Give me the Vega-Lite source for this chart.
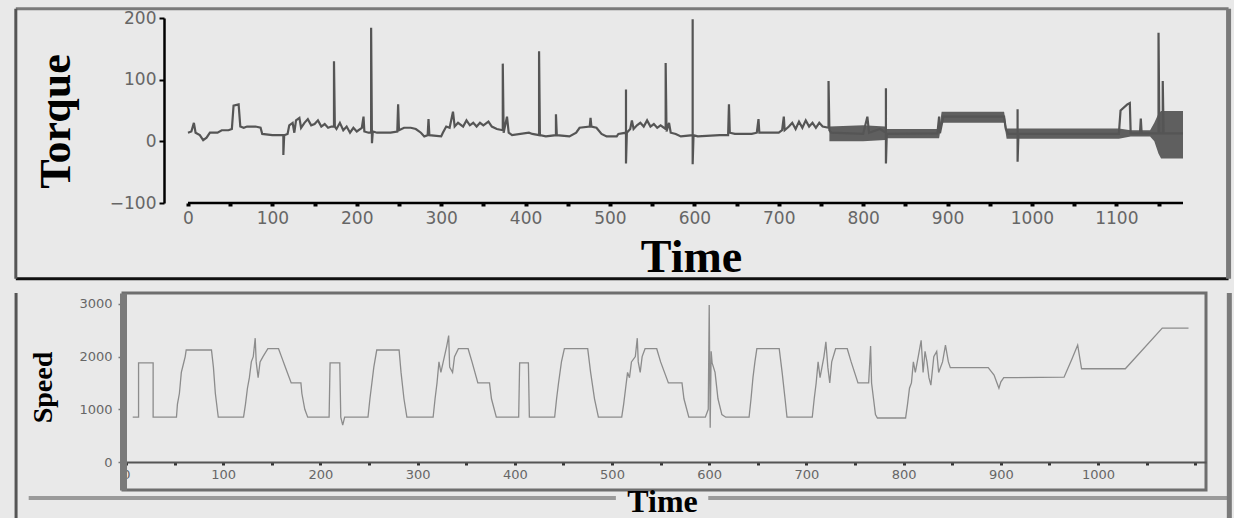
{
  "$schema": "https://vega.github.io/schema/vega-lite/v6.json",
  "background": "#e9e9e9",
  "padding": {"left": 13, "top": 6, "right": 0, "bottom": 0},
  "spacing": 7,
  "config": {
    "view": {"stroke": null},
    "axis": {"grid": false, "labelFont": "DejaVu Sans", "titleFont": "Liberation Serif", "titleFontWeight": "bold", "titleColor": "#000"}
  },
  "datasets": {
    "torque": [
      {"t":0,"v":14},{"t":4,"v":16},{"t":7,"v":30},{"t":9,"v":14},{"t":14,"v":10},{"t":18,"v":2},{"t":22,"v":6},{"t":26,"v":14},{"t":35,"v":14},{"t":40,"v":18},{"t":48,"v":18},{"t":52,"v":20},{"t":54,"v":58},{"t":60,"v":60},{"t":62,"v":24},{"t":66,"v":22},{"t":70,"v":24},{"t":80,"v":24},{"t":86,"v":22},{"t":88,"v":12},{"t":100,"v":10},{"t":110,"v":10},{"t":113,"v":10},{"t":113,"v":-22},{"t":114,"v":10},{"t":118,"v":12},{"t":120,"v":26},{"t":124,"v":30},{"t":126,"v":14},{"t":128,"v":34},{"t":132,"v":38},{"t":134,"v":22},{"t":138,"v":30},{"t":142,"v":36},{"t":146,"v":26},{"t":150,"v":28},{"t":154,"v":34},{"t":158,"v":24},{"t":162,"v":28},{"t":166,"v":22},{"t":170,"v":24},{"t":173,"v":24},{"t":173,"v":130},{"t":174,"v":24},{"t":176,"v":20},{"t":180,"v":30},{"t":184,"v":18},{"t":188,"v":24},{"t":192,"v":14},{"t":196,"v":22},{"t":200,"v":16},{"t":206,"v":22},{"t":208,"v":40},{"t":209,"v":16},{"t":214,"v":14},{"t":217,"v":14},{"t":217,"v":184},{"t":218,"v":-3},{"t":219,"v":16},{"t":224,"v":14},{"t":240,"v":14},{"t":248,"v":16},{"t":249,"v":60},{"t":250,"v":18},{"t":256,"v":22},{"t":264,"v":22},{"t":270,"v":20},{"t":276,"v":14},{"t":280,"v":8},{"t":284,"v":10},{"t":285,"v":36},{"t":286,"v":10},{"t":300,"v":8},{"t":302,"v":14},{"t":306,"v":24},{"t":310,"v":22},{"t":314,"v":48},{"t":316,"v":24},{"t":320,"v":30},{"t":326,"v":24},{"t":330,"v":34},{"t":334,"v":26},{"t":338,"v":30},{"t":342,"v":24},{"t":346,"v":30},{"t":350,"v":26},{"t":356,"v":32},{"t":360,"v":24},{"t":366,"v":20},{"t":373,"v":18},{"t":373,"v":126},{"t":374,"v":14},{"t":378,"v":40},{"t":380,"v":14},{"t":384,"v":10},{"t":404,"v":14},{"t":408,"v":12},{"t":416,"v":10},{"t":416,"v":146},{"t":417,"v":10},{"t":424,"v":8},{"t":436,"v":10},{"t":436,"v":44},{"t":437,"v":10},{"t":452,"v":8},{"t":460,"v":14},{"t":464,"v":22},{"t":476,"v":24},{"t":477,"v":38},{"t":478,"v":24},{"t":484,"v":22},{"t":490,"v":12},{"t":496,"v":8},{"t":508,"v":8},{"t":510,"v":12},{"t":519,"v":14},{"t":519,"v":84},{"t":519,"v":-36},{"t":520,"v":14},{"t":524,"v":20},{"t":526,"v":34},{"t":528,"v":20},{"t":532,"v":26},{"t":536,"v":30},{"t":540,"v":24},{"t":544,"v":34},{"t":548,"v":24},{"t":552,"v":28},{"t":556,"v":22},{"t":560,"v":26},{"t":566,"v":20},{"t":566,"v":127},{"t":567,"v":16},{"t":570,"v":30},{"t":572,"v":14},{"t":578,"v":12},{"t":584,"v":8},{"t":598,"v":10},{"t":598,"v":198},{"t":598,"v":-37},{"t":599,"v":10},{"t":604,"v":8},{"t":630,"v":10},{"t":640,"v":10},{"t":641,"v":60},{"t":642,"v":14},{"t":648,"v":12},{"t":668,"v":12},{"t":674,"v":14},{"t":676,"v":36},{"t":677,"v":14},{"t":700,"v":14},{"t":704,"v":18},{"t":706,"v":40},{"t":707,"v":18},{"t":712,"v":24},{"t":716,"v":30},{"t":720,"v":20},{"t":724,"v":32},{"t":728,"v":22},{"t":732,"v":34},{"t":736,"v":24},{"t":740,"v":30},{"t":744,"v":22},{"t":748,"v":30},{"t":752,"v":24},{"t":759,"v":22},{"t":759,"v":98},{"t":760,"v":18},{"t":762,"v":14},{"t":800,"v":12},{"t":805,"v":40},{"t":807,"v":14},{"t":820,"v":20},{"t":827,"v":14},{"t":827,"v":86},{"t":827,"v":-36},{"t":828,"v":12},{"t":888,"v":13},{"t":890,"v":40},{"t":891,"v":13},{"t":895,"v":40},{"t":967,"v":40},{"t":969,"v":20},{"t":972,"v":12},{"t":983,"v":12},{"t":983,"v":52},{"t":983,"v":-33},{"t":984,"v":12},{"t":1103,"v":12},{"t":1105,"v":50},{"t":1113,"v":60},{"t":1116,"v":62},{"t":1117,"v":13},{"t":1128,"v":13},{"t":1129,"v":37},{"t":1130,"v":13},{"t":1150,"v":13},{"t":1150,"v":176},{"t":1151,"v":13},{"t":1155,"v":13},{"t":1155,"v":98},{"t":1156,"v":13},{"t":1179,"v":13}
    ],
    "bands": [
      {"t":760,"lo":0,"hi":24},{"t":800,"lo":0,"hi":26},{"t":826,"lo":2,"hi":24},
      {"t":828,"lo":5,"hi":20},{"t":890,"lo":5,"hi":20},
      {"t":893,"lo":30,"hi":48},{"t":967,"lo":30,"hi":48},
      {"t":970,"lo":4,"hi":21},{"t":1103,"lo":4,"hi":21},
      {"t":1117,"lo":8,"hi":18},{"t":1140,"lo":8,"hi":18},{"t":1145,"lo":0,"hi":30},{"t":1150,"lo":-20,"hi":45},{"t":1153,"lo":-28,"hi":49},{"t":1179,"lo":-28,"hi":49}
    ],
    "topH": [
      {"a":0,"b":1179,"v":-100,"c":"#000000","w":2.5},
      {"a":-204,"b":1233,"v":215,"c":"#7a7a7a","w":3},
      {"a":-204,"b":1233,"v":-223,"c":"#111111","w":3}
    ],
    "topV": [
      {"t":-204,"v1":215,"v2":-223,"c":"#555555","w":3},
      {"t":1233,"v1":215,"v2":-223,"c":"#7a7a7a","w":5}
    ],
    "botH": [
      {"a":-100,"b":504,"s":-683},
      {"a":599,"b":1135,"s":-683}
    ],
    "botV": [
      {"t":-113,"s1":3207,"s2":-1063,"c":"#555555","w":3},
      {"t":1135,"s1":3207,"s2":-1063,"c":"#7a7a7a","w":5}
    ],
    "speed": [
      {"t":7,"s":850},{"t":13,"s":850},{"t":13,"s":1880},{"t":28,"s":1880},{"t":28,"s":850},{"t":52,"s":850},{"t":53,"s":1100},{"t":55,"s":1300},{"t":56,"s":1500},{"t":57,"s":1700},{"t":59,"s":1850},{"t":61,"s":2000},{"t":62,"s":2125},{"t":88,"s":2125},{"t":90,"s":1800},{"t":92,"s":1300},{"t":95,"s":850},{"t":121,"s":850},{"t":123,"s":1100},{"t":125,"s":1400},{"t":127,"s":1600},{"t":129,"s":1900},{"t":131,"s":2000},{"t":133,"s":2350},{"t":134,"s":1900},{"t":136,"s":1600},{"t":138,"s":1900},{"t":141,"s":2000},{"t":146,"s":2150},{"t":157,"s":2150},{"t":160,"s":2000},{"t":164,"s":1800},{"t":170,"s":1500},{"t":180,"s":1500},{"t":181,"s":1300},{"t":184,"s":1000},{"t":187,"s":850},{"t":209,"s":850},{"t":210,"s":1880},{"t":220,"s":1880},{"t":221,"s":850},{"t":223,"s":700},{"t":225,"s":850},{"t":249,"s":850},{"t":251,"s":1200},{"t":253,"s":1500},{"t":255,"s":1800},{"t":258,"s":2125},{"t":281,"s":2125},{"t":283,"s":1700},{"t":286,"s":1200},{"t":289,"s":850},{"t":316,"s":850},{"t":318,"s":1200},{"t":320,"s":1500},{"t":322,"s":1900},{"t":324,"s":1700},{"t":330,"s":2200},{"t":332,"s":2400},{"t":333,"s":1800},{"t":336,"s":1700},{"t":338,"s":2000},{"t":342,"s":2150},{"t":352,"s":2150},{"t":356,"s":1900},{"t":362,"s":1500},{"t":374,"s":1500},{"t":376,"s":1200},{"t":381,"s":850},{"t":404,"s":850},{"t":405,"s":1880},{"t":414,"s":1880},{"t":415,"s":850},{"t":441,"s":850},{"t":443,"s":1200},{"t":445,"s":1500},{"t":448,"s":1900},{"t":451,"s":2150},{"t":475,"s":2150},{"t":478,"s":1700},{"t":482,"s":1200},{"t":486,"s":850},{"t":510,"s":850},{"t":512,"s":1100},{"t":514,"s":1400},{"t":516,"s":1700},{"t":518,"s":1600},{"t":520,"s":1900},{"t":524,"s":2000},{"t":526,"s":2350},{"t":527,"s":1900},{"t":529,"s":1700},{"t":531,"s":2000},{"t":534,"s":2150},{"t":546,"s":2150},{"t":550,"s":1900},{"t":558,"s":1500},{"t":572,"s":1500},{"t":574,"s":1200},{"t":579,"s":850},{"t":596,"s":850},{"t":599,"s":1000},{"t":600,"s":2980},{"t":601,"s":650},{"t":602,"s":2100},{"t":603,"s":1880},{"t":606,"s":1700},{"t":609,"s":1200},{"t":613,"s":900},{"t":617,"s":850},{"t":641,"s":850},{"t":643,"s":1200},{"t":645,"s":1600},{"t":647,"s":1900},{"t":649,"s":2150},{"t":672,"s":2150},{"t":675,"s":1700},{"t":678,"s":1200},{"t":680,"s":850},{"t":706,"s":850},{"t":708,"s":1200},{"t":710,"s":1500},{"t":712,"s":1900},{"t":714,"s":1600},{"t":718,"s":2000},{"t":720,"s":2280},{"t":722,"s":1800},{"t":724,"s":1500},{"t":726,"s":1900},{"t":730,"s":2150},{"t":742,"s":2150},{"t":746,"s":1900},{"t":753,"s":1500},{"t":764,"s":1500},{"t":766,"s":2200},{"t":767,"s":1500},{"t":769,"s":1200},{"t":771,"s":900},{"t":773,"s":835},{"t":802,"s":835},{"t":804,"s":1100},{"t":806,"s":1400},{"t":808,"s":1500},{"t":810,"s":1900},{"t":812,"s":1700},{"t":815,"s":2000},{"t":818,"s":2310},{"t":820,"s":1700},{"t":822,"s":2100},{"t":824,"s":1900},{"t":826,"s":1600},{"t":828,"s":1460},{"t":831,"s":2000},{"t":834,"s":2100},{"t":836,"s":1700},{"t":840,"s":1900},{"t":843,"s":2220},{"t":846,"s":1900},{"t":848,"s":1790},{"t":887,"s":1790},{"t":893,"s":1650},{"t":896,"s":1500},{"t":898,"s":1400},{"t":900,"s":1520},{"t":903,"s":1600},{"t":965,"s":1610},{"t":973,"s":1950},{"t":979,"s":2220},{"t":983,"s":1770},{"t":1028,"s":1770},{"t":1066,"s":2540},{"t":1093,"s":2540}
    ]
  },
  "vconcat": [
    {
      "width": 1060,
      "height": 185,
      "encoding": {
        "x": {
          "field": "t", "type": "quantitative",
          "scale": {"domain": [-77, 1179], "nice": false, "zero": false},
          "axis": {
            "title": "Time", "titleFontSize": 46, "titleX": 568, "titleY": 68, "titleAlign": "center", "titleBaseline": "alphabetic",
            "values": [0,50,100,150,200,250,300,350,400,450,500,550,600,650,700,750,800,850,900,950,1000,1050,1100,1150],
            "labelExpr": "datum.value % 100 === 0 ? datum.label : ''",
            "format": "d",
            "domain": false, "tickColor": "#000", "tickSize": 3, "tickWidth": 4,
            "labelFontSize": 17, "labelColor": "#666", "labelPadding": 4, "labelOverlap": false, "labelFlush": false
          }
        }
      },
      "layer": [
        {
          "data": {"name": "bands"},
          "mark": {"type": "area", "color": "#5f5f5f", "opacity": 1},
          "encoding": {
            "y": {"field": "lo", "type": "quantitative", "title": "Torque", "scale": {"domain": [-100, 200], "nice": false}},
            "y2": {"field": "hi"}
          }
        },
        {
          "data": {"name": "torque"},
          "mark": {"type": "line", "color": "#555555", "strokeWidth": 2.2},
          "encoding": {
            "y": {
              "field": "v", "type": "quantitative", "title": "Torque",
              "scale": {"domain": [-100, 200], "nice": false},
              "axis": {
                "offset": -41, "values": [-100,-50,0,50,100,150,200],
                "labelExpr": "datum.value % 100 === 0 ? datum.label : ''",
                "domainColor": "#000", "domainWidth": 2.5, "tickColor": "#000", "tickSize": 5, "tickWidth": 2,
                "labelFontSize": 17, "labelColor": "#666", "labelPadding": 3,
                "titleFontSize": 44, "titleX": -108, "titleY": 103, "titleAngle": 270, "titleBaseline": "middle", "titleAlign": "center"
              }
            }
          }
        },
        {
          "data": {"name": "topH"},
          "mark": {"type": "rule"},
          "encoding": {
            "x": {"field": "a", "type": "quantitative"},
            "x2": {"field": "b"},
            "y": {"field": "v", "type": "quantitative"},
            "color": {"field": "c", "type": "nominal", "scale": null},
            "strokeWidth": {"field": "w", "type": "quantitative", "scale": null}
          }
        },
        {
          "data": {"name": "topV"},
          "mark": {"type": "rule"},
          "encoding": {
            "x": {"field": "t", "type": "quantitative"},
            "y": {"field": "v1", "type": "quantitative"},
            "y2": {"field": "v2"},
            "color": {"field": "c", "type": "nominal", "scale": null},
            "strokeWidth": {"field": "w", "type": "quantitative", "scale": null}
          }
        }
      ]
    },
    {
      "width": 1083,
      "height": 197,
      "view": {"stroke": "#6e6e6e", "strokeWidth": 3},
      "encoding": {
        "x": {
          "field": "t", "type": "quantitative", "title": "Time",
          "scale": {"domain": [-3, 1111], "nice": false, "zero": false},
          "axis": {
            "offset": -28,
            "values": [0,50,100,150,200,250,300,350,400,450,500,550,600,650,700,750,800,850,900,950,1000,1050,1100],
            "labelExpr": "datum.value % 100 === 0 && datum.value <= 1000 ? datum.label : ''",
            "format": "d",
            "domainColor": "#555", "domainWidth": 2, "tickColor": "#333", "tickSize": 3, "tickWidth": 3,
            "labelFontSize": 13, "labelColor": "#666", "labelPadding": 3, "labelOverlap": false, "labelFlush": false,
            "titleFontSize": 32, "titleX": 539, "titleY": 49, "titleAlign": "center", "titleBaseline": "alphabetic"
          }
        }
      },
      "layer": [
        {
          "data": {"name": "speed"},
          "mark": {"type": "line", "color": "#8c8c8c", "strokeWidth": 1.3},
          "encoding": {
            "y": {
              "field": "s", "type": "quantitative", "title": "Speed",
              "scale": {"domain": [-531, 3207], "nice": false, "zero": false},
              "axis": {
                "values": [0,500,1000,1500,2000,2500,3000],
                "labelExpr": "datum.value % 1000 === 0 ? datum.label : ''",
                "format": "d",
                "domainColor": "#7a7a7a", "domainWidth": 7, "tickColor": "#777", "tickSize": 5, "tickWidth": 1.5,
                "labelFontSize": 13, "labelColor": "#666", "labelPadding": 6,
                "titleFontSize": 28, "titleX": -80, "titleY": 94, "titleAngle": 270, "titleBaseline": "middle", "titleAlign": "center"
              }
            }
          }
        },
        {
          "data": {"name": "botH"},
          "mark": {"type": "rule", "color": "#9a9a9a", "strokeWidth": 4},
          "encoding": {
            "x": {"field": "a", "type": "quantitative"},
            "x2": {"field": "b"},
            "y": {"field": "s", "type": "quantitative", "title": "Speed"}
          }
        },
        {
          "data": {"name": "botV"},
          "mark": {"type": "rule"},
          "encoding": {
            "x": {"field": "t", "type": "quantitative"},
            "y": {"field": "s1", "type": "quantitative", "title": "Speed"},
            "y2": {"field": "s2"},
            "color": {"field": "c", "type": "nominal", "scale": null},
            "strokeWidth": {"field": "w", "type": "quantitative", "scale": null}
          }
        }
      ]
    }
  ]
}
